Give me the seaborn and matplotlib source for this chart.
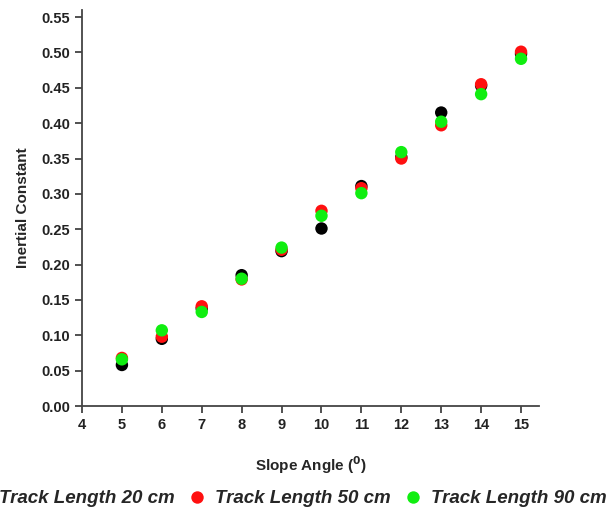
import matplotlib
matplotlib.use("Agg")
import matplotlib.pyplot as plt
import seaborn as sns
import pandas as pd

angles = [5, 6, 7, 8, 9, 10, 11, 12, 13, 14, 15]
track_20 = [0.058, 0.095, 0.138, 0.185, 0.219, 0.251, 0.311, 0.352, 0.415, 0.453, 0.498]
track_50 = [0.068, 0.098, 0.141, 0.179, 0.221, 0.276, 0.308, 0.350, 0.397, 0.455, 0.501]
track_90 = [0.066, 0.107, 0.133, 0.180, 0.224, 0.269, 0.301, 0.359, 0.402, 0.441, 0.491]
series_names = ["Track Length 20 cm", "Track Length 50 cm", "Track Length 90 cm"]
colors = ["#000000", "#ff1010", "#10ee10"]

rows = []
for name, vals in zip(series_names, [track_20, track_50, track_90]):
    for a, v in zip(angles, vals):
        rows.append({"angle": a, "value": v, "series": name})
df = pd.DataFrame(rows)

sns.set_style("ticks")
plt.rcParams["font.family"] = ["Liberation Sans", "DejaVu Sans"]

fig = plt.figure(figsize=(6.11, 5.18), dpi=100)
ax = fig.add_axes([82 / 611, (518 - 406) / 518, (539 - 82) / 611, (406 - 10) / 518])

sns.scatterplot(data=df, x="angle", y="value", hue="series", palette=colors,
                s=80, edgecolor="none", ax=ax, legend=True)

ax.set_xlim(4, 15.45)
ax.set_ylim(0, 0.56)
ax.set_xticks(range(4, 16))
ax.set_yticks([i * 0.05 for i in range(12)])
ax.set_yticklabels([f"{i * 0.05:.2f}" for i in range(12)])
for lab in ax.get_xticklabels() + ax.get_yticklabels():
    lab.set_fontweight("bold")
    lab.set_fontsize(10.5)
ax.tick_params(direction="out", length=5, width=1.2, colors="#333333", labelcolor="#222222")
for sp in ["top", "right"]:
    ax.spines[sp].set_visible(False)
for sp in ["left", "bottom"]:
    ax.spines[sp].set_linewidth(1.3)
    ax.spines[sp].set_color("#444444")

ax.set_xlabel(r"Slope Angle ($\mathbf{^{0}}$)", fontsize=11, fontweight="bold", labelpad=16)
ax.set_ylabel("Inertial Constant", fontsize=11, fontweight="bold", labelpad=8)

handles, labels = ax.get_legend_handles_labels()
ax.get_legend().remove()
fig.legend(handles, labels, loc="center left", bbox_to_anchor=(-0.077, 0.037), ncol=3,
           frameon=False, prop={"weight": "bold", "style": "italic", "size": 13.5},
           handlelength=1.2, handletextpad=0.36, columnspacing=0.59, markerscale=1.0)

fig.savefig("out.png", dpi=100)
